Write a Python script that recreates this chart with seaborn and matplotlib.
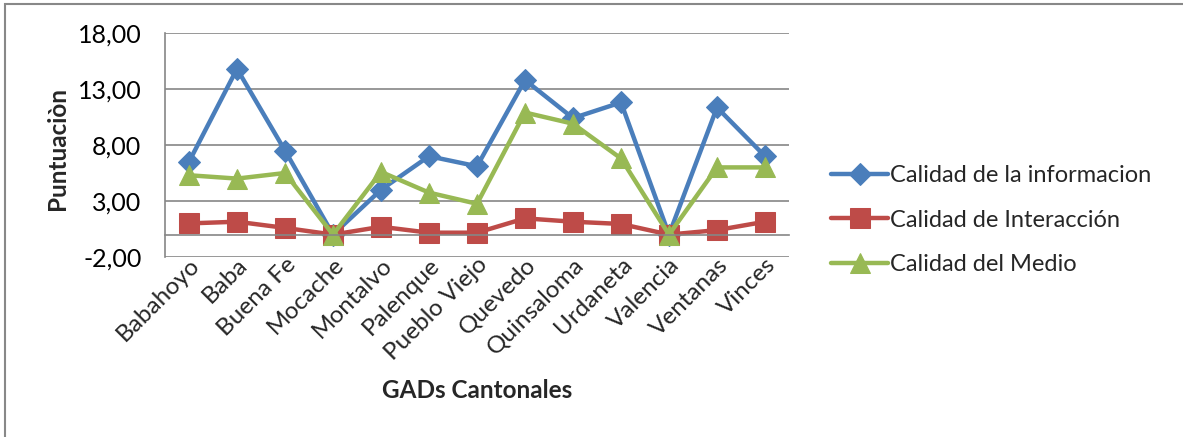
import numpy as np
import pandas as pd
import matplotlib
matplotlib.use("Agg")
import matplotlib.pyplot as plt
import seaborn as sns
from matplotlib.patches import Rectangle
from matplotlib.ticker import FixedLocator, FuncFormatter

categories = ["Babahoyo", "Baba", "Buena Fe", "Mocache", "Montalvo", "Palenque",
              "Pueblo Viejo", "Quevedo", "Quinsaloma", "Urdaneta", "Valencia",
              "Ventanas", "Vinces"]
info = [6.5, 14.8, 7.5, 0.0, 4.0, 7.0, 6.1, 13.8, 10.4, 11.8, 0.0, 11.35, 7.0]
interaccion = [1.0, 1.15, 0.6, 0.0, 0.7, 0.17, 0.17, 1.45, 1.15, 0.95, 0.0, 0.4, 1.15]
medio = [5.3, 5.0, 5.5, 0.0, 5.6, 3.75, 2.75, 10.9, 9.9, 6.8, 0.0, 6.0, 6.0]
series_names = ["Calidad de la informacion", "Calidad de Interacción", "Calidad del Medio"]
yticks = [-2, 3, 8, 13, 18]

colors = ["#4A7EBB", "#BE4B48", "#98B954"]
markers = ["D", "s", "^"]
msizes = [11, 14, 15]

sns.set_theme(style="white")
plt.rcParams["font.family"] = ["Lato", "DejaVu Sans"]

fig = plt.figure(figsize=(11.83, 4.37), dpi=100)
ax = fig.add_axes([165/1183, 1-257/437, (789-165)/1183, (257-33)/437])

x = np.arange(len(categories))
for name, vals, c, m, ms in zip(series_names, [info, interaccion, medio], colors, markers, msizes):
    df = pd.DataFrame({"x": x, "y": vals})
    sns.lineplot(data=df, x="x", y="y", ax=ax, color=c, marker=m, markersize=ms,
                 markeredgecolor=c, linewidth=3.2, label=name, sort=False)

ax.set_xlim(-0.5, len(categories) - 0.5)
ax.set_ylim(-2, 18)
ax.yaxis.set_major_locator(FixedLocator(yticks))
ax.yaxis.set_major_formatter(FuncFormatter(lambda v, p: f"{v:.2f}".replace(".", ",")))
ax.grid(axis="y", color="#868686", linewidth=1.2)
ax.set_axisbelow(True)
ax.tick_params(axis="y", length=0, labelsize=18, pad=17, colors="black")

for s in ["top", "right"]:
    ax.spines[s].set_visible(False)
ax.spines["left"].set_color("#868686")
ax.spines["left"].set_linewidth(1.2)
ax.spines["bottom"].set_position(("data", 0))
ax.spines["bottom"].set_color("#868686")
ax.spines["bottom"].set_linewidth(1.2)

ax.set_xticks(x)
ax.set_xticklabels(categories, rotation=45, ha="right", rotation_mode="anchor", fontsize=17.5)
ax.xaxis.set_minor_locator(FixedLocator(np.arange(-0.5, len(categories), 1.0)))
ax.tick_params(axis="x", which="major", length=0, pad=14)
ax.tick_params(axis="x", which="minor", length=7, width=1.2, color="#868686", direction="out")

ax.set_xlabel("")
ax.set_ylabel("")
fig.text(477/1183, 1-390/437, "GADs Cantonales", ha="center", va="center",
         fontsize=17.5, fontweight="bold")
fig.text(58/1183, 1-148/437, "Puntuaciòn", ha="center", va="center",
         rotation=90, fontsize=17.5, fontweight="bold")

leg = ax.legend(loc="center left", bbox_to_anchor=(822/1183, 1-220/437),
                bbox_transform=fig.transFigure, frameon=False, fontsize=17,
                handlelength=2.4, handletextpad=0.1, labelspacing=1.0, borderaxespad=0)

fig.patches.append(Rectangle((5/1183, -0.2), 1.5, 1.2 - 4/437, transform=fig.transFigure,
                             fill=False, edgecolor="#888888", linewidth=1.5))

fig.savefig("out.png", dpi=100)
